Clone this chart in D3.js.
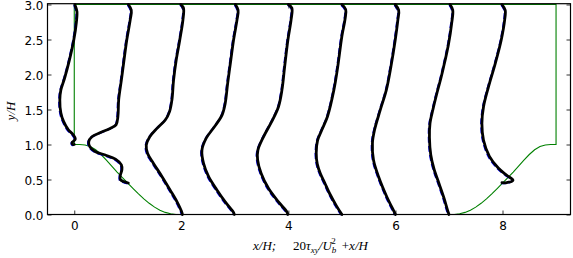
<!DOCTYPE html>
<html>
<head>
<meta charset="utf-8">
<script src="https://cdn.jsdelivr.net/npm/d3@7"></script>
<style>
  body { margin: 0; background: #fff; }
  svg { display: block; }
  .tick text { font-family: "DejaVu Sans", sans-serif; font-size: 12px; fill: #000; }
  .math { font-family: "Liberation Serif", "DejaVu Serif", serif; font-style: italic; font-size: 13px; }
</style>
</head>
<body>
<svg id="chart" width="573" height="258"></svg>
<script>
// stations x/H where profiles are taken
const stations = [0, 1, 2, 3, 4, 5, 6, 7, 8];
const xTicks = [0, 2, 4, 6, 8];
const yTicks = [0, 0.5, 1.0, 1.5, 2.0, 2.5, 3.0];

// hill crest shape (left half), x/H and y/H
const hillX = [0, 0.1, 0.2, 0.3, 0.4, 0.5, 0.6, 0.7, 0.8, 0.9, 1.0, 1.1, 1.2, 1.3, 1.4, 1.5, 1.6, 1.7, 1.8, 1.9, 1.93];
const hillY = [1.0, 1.0, 0.994, 0.972, 0.925, 0.857, 0.776, 0.691, 0.607, 0.527, 0.448, 0.371, 0.295, 0.224, 0.16, 0.105, 0.062, 0.03, 0.01, 0.001, 0];

// profiles: [20*tau_xy/Ub^2 + x/H, y/H]
const prof0 = [[0.01, 3.0], [0.05, 2.9], [0.04, 2.75], [-0.01, 2.49], [-0.09, 2.21], [-0.18, 1.95], [-0.25, 1.78], [-0.27, 1.64], [-0.25, 1.45], [-0.2, 1.33], [-0.11, 1.21], [-0.02, 1.14], [0.02, 1.08], [-0.01, 1.05], [-0.04, 1.03], [-0.03, 1.0], [0.0, 1.0]];
const prof1 = [[1.01, 3.0], [1.065, 2.92], [1.045, 2.78], [0.98, 2.49], [0.93, 2.21], [0.88, 1.92], [0.83, 1.64], [0.815, 1.4], [0.78, 1.28], [0.67, 1.23], [0.49, 1.17], [0.33, 1.11], [0.27, 1.04], [0.29, 0.97], [0.39, 0.9], [0.58, 0.85], [0.77, 0.79], [0.88, 0.71], [0.89, 0.64], [0.86, 0.56], [0.86, 0.5], [0.92, 0.47], [1.01, 0.45]];
const prof2 = [[1.99, 3.0], [2.04, 2.95], [2.03, 2.78], [1.97, 2.49], [1.905, 2.21], [1.855, 1.92], [1.825, 1.64], [1.78, 1.47], [1.7, 1.35], [1.545, 1.23], [1.41, 1.11], [1.345, 0.99], [1.37, 0.87], [1.48, 0.73], [1.64, 0.54], [1.79, 0.35], [1.92, 0.18], [2.01, 0.03], [2.02, 0.0]];
const prof3 = [[3.01, 3.0], [3.06, 2.92], [3.04, 2.78], [2.975, 2.49], [2.925, 2.21], [2.865, 1.87], [2.82, 1.59], [2.76, 1.42], [2.615, 1.25], [2.465, 1.09], [2.385, 0.92], [2.415, 0.73], [2.51, 0.54], [2.665, 0.35], [2.82, 0.18], [2.975, 0.03], [2.99, 0.0]];
const prof4 = [[4.0, 3.0], [4.065, 2.95], [4.05, 2.78], [3.99, 2.49], [3.93, 2.11], [3.88, 1.78], [3.815, 1.54], [3.69, 1.33], [3.535, 1.11], [3.43, 0.92], [3.425, 0.78], [3.49, 0.59], [3.63, 0.37], [3.815, 0.18], [3.97, 0.04], [3.99, 0.0]];
const prof5 = [[5.0, 3.0], [5.07, 2.93], [5.06, 2.8], [5.0, 2.55], [4.92, 2.1], [4.85, 1.78], [4.73, 1.4], [4.62, 1.2], [4.545, 1.06], [4.52, 0.88], [4.54, 0.72], [4.595, 0.59], [4.68, 0.45], [4.77, 0.3], [4.9, 0.12], [5.0, 0.0]];
const prof6 = [[5.995, 3.0], [6.06, 2.92], [6.045, 2.78], [5.995, 2.49], [5.915, 2.11], [5.83, 1.78], [5.715, 1.49], [5.61, 1.21], [5.57, 1.02], [5.59, 0.78], [5.685, 0.54], [5.84, 0.25], [5.975, 0.04], [6.0, 0.0]];
const prof7 = [[7.02, 3.0], [7.07, 2.92], [7.05, 2.73], [6.99, 2.43], [6.9, 2.11], [6.85, 1.95], [6.78, 1.75], [6.7, 1.5], [6.645, 1.3], [6.635, 1.1], [6.66, 0.85], [6.72, 0.65], [6.81, 0.45], [6.9, 0.25], [6.97, 0.07], [7.0, 0.0]];
const prof8 = [[7.99, 3.0], [8.05, 2.92], [8.04, 2.78], [7.975, 2.49], [7.865, 2.16], [7.74, 1.83], [7.645, 1.54], [7.615, 1.3], [7.645, 1.06], [7.755, 0.83], [7.925, 0.66], [8.08, 0.56], [8.195, 0.49], [8.08, 0.455], [7.99, 0.455]];

const profiles = [prof0, prof1, prof2, prof3, prof4, prof5, prof6, prof7, prof8];

const svg = d3.select("#chart");
const plot = { left: 47.5, right: 570.5, top: 4.5, bottom: 214.5 };

const x = d3.scaleLinear().domain([-0.5, 9.27]).range([plot.left, plot.right]);
const y = d3.scaleLinear().domain([0, 3]).range([plot.bottom, plot.top]);

// geometry outline: left wall, hill, flat, hill, right wall, top
let geom = [[0, 3]];
hillX.forEach((hx, i) => geom.push([hx, hillY[i]]));
for (let i = hillX.length - 1; i >= 0; i--) geom.push([9 - hillX[i], hillY[i]]);
geom.push([9, 3]);
geom.push([0, 3]);

let line = d3.line().x((d) => x(d[0])).y((d) => y(d[1]));
let smooth = d3.line().x((d) => x(d[0])).y((d) => y(d[1])).curve(d3.curveCatmullRom.alpha(0.5));

svg.append("path")
  .attr("d", line(geom))
  .attr("fill", "none")
  .attr("stroke", "#008000")
  .attr("stroke-width", 1.1);

// reference data (blue dashed), mostly hidden behind the black lines
svg.append("g")
  .attr("transform", "translate(-0.7,0.5)")
  .selectAll("path")
  .data(profiles)
  .enter()
  .append("path")
  .attr("d", (d) => smooth(d))
  .attr("fill", "none")
  .attr("stroke", "#0000ff")
  .attr("stroke-width", 2)
  .attr("stroke-dasharray", "6,3");

svg.append("g")
  .selectAll("path")
  .data(profiles)
  .enter()
  .append("path")
  .attr("d", (d) => smooth(d))
  .attr("fill", "none")
  .attr("stroke", "#000")
  .attr("stroke-width", 2.8)
  .attr("stroke-linejoin", "round")
  .attr("stroke-linecap", "round");

// axes, ticks inward on all sides (classic matplotlib)
let xAxis = d3.axisBottom(x).tickValues(xTicks).tickFormat(d3.format("d")).tickSizeInner(-4).tickSizeOuter(0).tickPadding(7);
let yAxis = d3.axisLeft(y).tickValues(yTicks).tickFormat(d3.format(".1f")).tickSizeInner(-4).tickSizeOuter(0).tickPadding(4);

let gx = svg.append("g").attr("transform", "translate(0," + plot.bottom + ")").call(xAxis);
let gy = svg.append("g").attr("transform", "translate(" + plot.left + ",0)").call(yAxis);
gy.selectAll(".tick text").attr("dy", "0.45em");
svg.append("g").attr("transform", "translate(0," + plot.top + ")")
  .call(d3.axisTop(x).tickValues(xTicks).tickFormat("").tickSizeInner(-4).tickSizeOuter(0));
svg.append("g").attr("transform", "translate(" + plot.right + ",0)")
  .call(d3.axisRight(y).tickValues(yTicks).tickFormat("").tickSizeInner(-4).tickSizeOuter(0));

svg.selectAll(".domain").remove();
svg.selectAll(".tick line").attr("stroke", "#000").attr("stroke-width", 0.8);

svg.append("rect")
  .attr("x", plot.left)
  .attr("y", plot.top - 0.8)
  .attr("width", plot.right - plot.left)
  .attr("height", plot.bottom - plot.top + 0.8)
  .attr("fill", "none")
  .attr("stroke", "#000")
  .attr("stroke-width", 1.2);

// axis labels
svg.append("text")
  .attr("class", "math")
  .attr("transform", "translate(15,111) rotate(-90)")
  .attr("text-anchor", "middle")
  .text("y/H");

let xl = svg.append("text").attr("class", "math").attr("x", 253).attr("y", 250);
xl.append("tspan").text("x/H;");
xl.append("tspan").attr("dx", 17).attr("font-style", "normal").text("20");
xl.append("tspan").text("τ");
xl.append("tspan").attr("font-size", "9px").attr("dy", 3).text("xy");
xl.append("tspan").attr("dy", -3).text("/U");
xl.append("tspan").attr("font-size", "9px").attr("dy", 3).text("b");
xl.append("tspan").attr("font-size", "9px").attr("font-style", "normal").attr("dx", -5).attr("dy", -9).text("2");
xl.append("tspan").attr("dx", 6).attr("dy", 6).attr("font-style", "normal").text("+");
xl.append("tspan").text("x/H");
</script>
</body>
</html>
